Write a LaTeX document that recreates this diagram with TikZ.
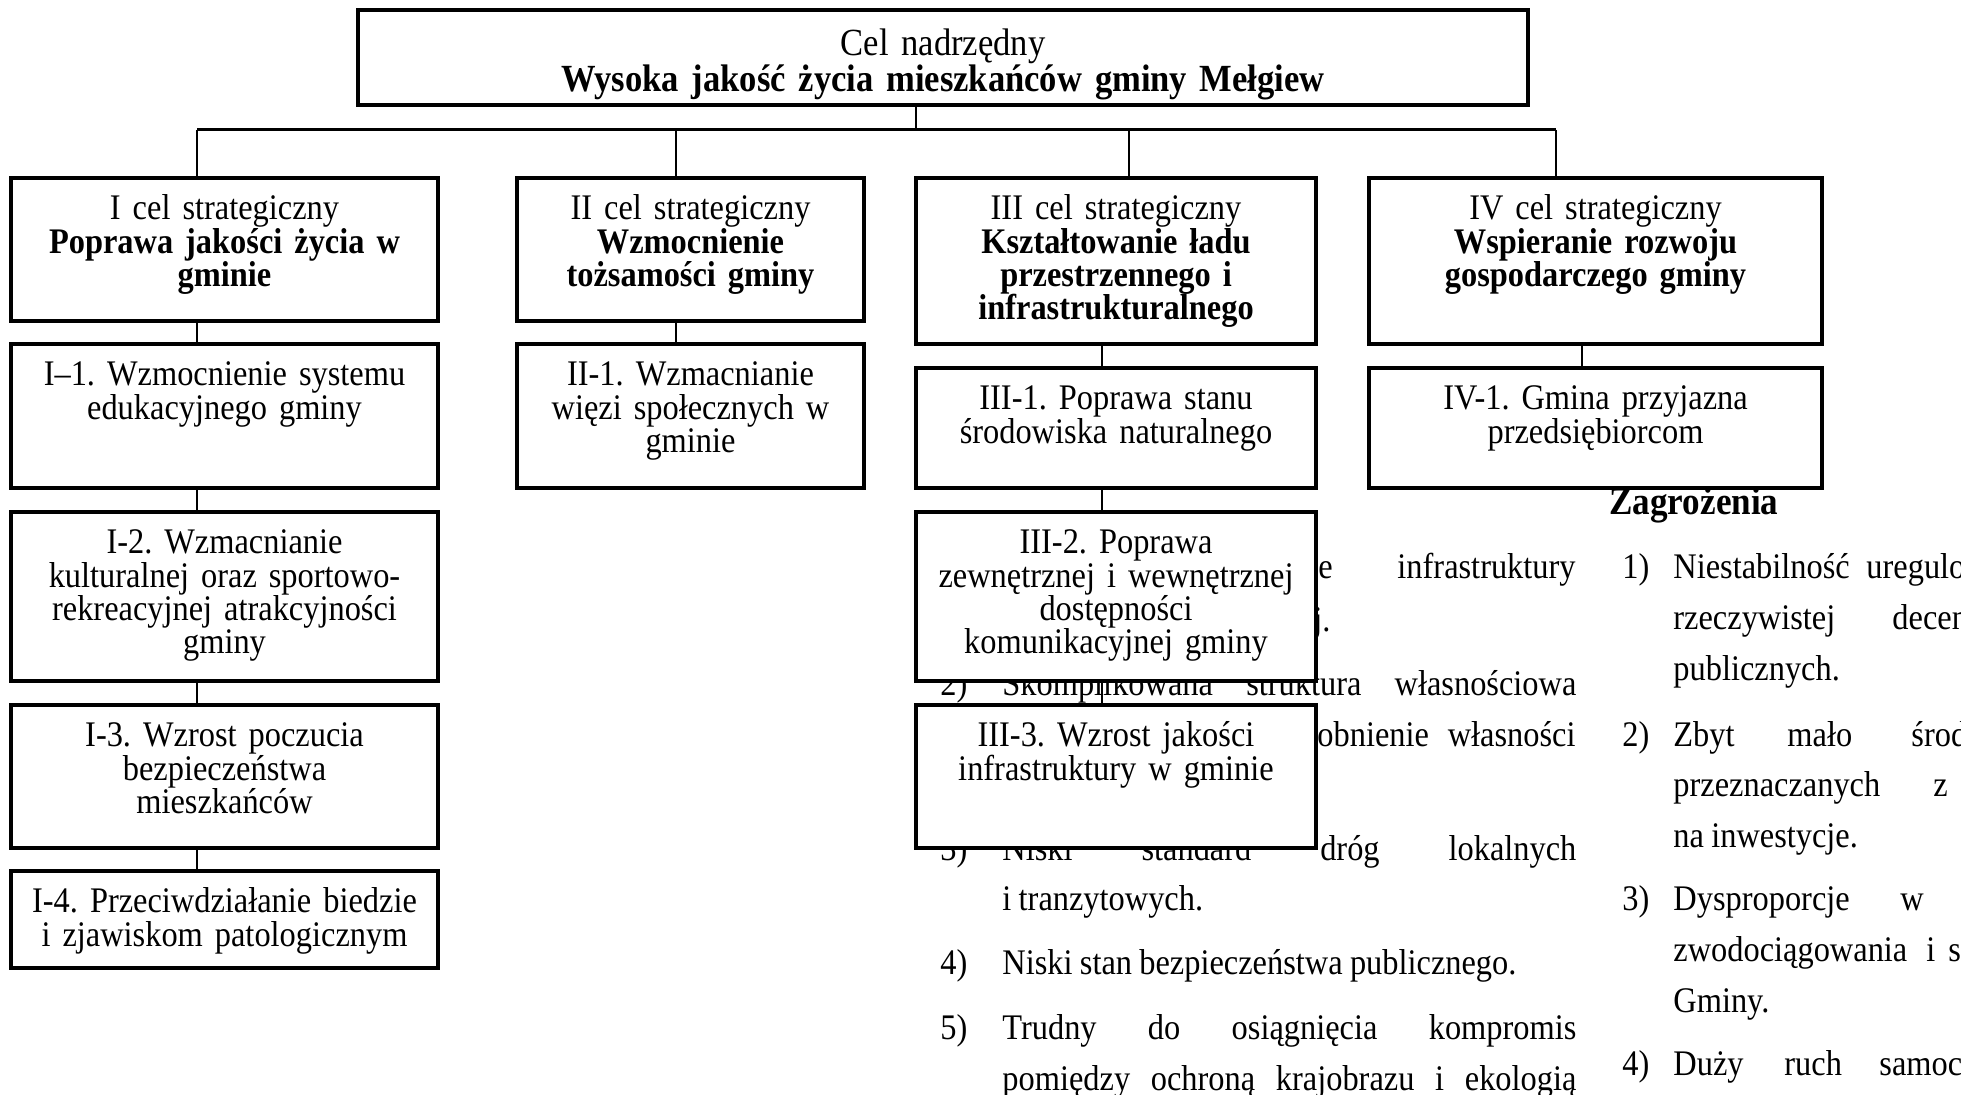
\documentclass[tikz,border=0pt]{standalone}
\usepackage{fontspec}
\setmainfont{Liberation Serif}[FakeStretch=0.9, WordSpace=0.9]
\newcommand\bxfont{\fontsize{18pt}{16.7pt}\selectfont\lineskiplimit=-100pt\lineskip=0pt}
\newcommand\topfont{\fontsize{19.2pt}{17.7pt}\selectfont\lineskiplimit=-100pt\lineskip=0pt}
\newcommand\bgfont{\fontsize{18pt}{25pt}\selectfont}
\newcommand\fstrut{\rule{0pt}{21.5pt}}
\newcommand\tstrut{\rule{0pt}{23.5pt}}
\tikzset{
  bx/.style={draw, line width=1.75pt, fill=white, inner sep=0pt},
  bt/.style={anchor=north, inner sep=0pt, align=center, font=\bxfont},
  bg/.style={anchor=base west, inner sep=0pt, font=\bgfont},
  bge/.style={anchor=base east, inner sep=0pt, font=\bgfont},
  conn/.style={line width=1.25pt},
  busline/.style={line width=1.5pt},
}
\begin{document}
\frenchspacing
\begin{tikzpicture}[x=0.5pt, y=-0.5pt]
\useasboundingbox (0,0) rectangle (1984,1095);
% ---- background text, middle column ----
\node[bg] (m1e) at (1318,579) {e};
\node[bge] (m1i) at (1576,579) {infrastruktury};
\node[bg] (m2j) at (1313,632) {j.};
\node[bg] (m3n) at (940,695) {2)};
\node[bg] (m3t) at (1002,695) {\makebox[287pt][s]{Skomplikowana struktura własnościowa}};
\node[bg] (m4a) at (1317,746) {obnienie};
\node[bge] (m4b) at (1576,746) {własności};
\node[bg] (m5n) at (940,860) {3)};
\node[bg] (m5t) at (1002,860) {\makebox[287pt][s]{Niski standard dróg lokalnych}};
\node[bg] (m6t) at (1002,910) {i tranzytowych.};
\node[bg] (m7n) at (940,974) {4)};
\node[bg] (m7t) at (1002,974) {Niski stan bezpieczeństwa publicznego.};
\node[bg] (m8n) at (940,1039) {5)};
\node[bg] (m8t) at (1002,1039) {\makebox[287pt][s]{Trudny do osiągnięcia kompromis}};
\node[bg] (m9t) at (1002,1090) {\makebox[287pt][s]{pomiędzy ochroną krajobrazu i ekologią}};
% ---- background text, right column ----
\begin{scope}
\clip (0,0) rectangle (1960,1095);
\node[bg, font=\fontsize{19.5pt}{25pt}\selectfont\bfseries] (zag) at (1609,515) {Zagrożenia};
\node[bg] (r1n) at (1622,579) {1)};
\node[bg] (r1a) at (1673,579) {Niestabilność};
\node[bg] (r1b) at (1866,579) {uregulo};
\node[bg] (r2a) at (1673,629) {rzeczywistej};
\node[bg] (r2b) at (1892,629) {decen};
\node[bg] (r3a) at (1673,680) {publicznych.};
\node[bg] (r4n) at (1622,746) {2)};
\node[bg] (r4a) at (1673,746) {Zbyt};
\node[bg] (r4b) at (1787,746) {mało};
\node[bg] (r4c) at (1911,746) {środ};
\node[bg] (r5a) at (1673,796) {przeznaczanych};
\node[bg] (r5b) at (1933,796) {z};
\node[bg] (r6a) at (1673,847) {na inwestycje.};
\node[bg] (r7n) at (1622,910) {3)};
\node[bg] (r7a) at (1673,910) {Dysproporcje};
\node[bg] (r7b) at (1900,910) {w};
\node[bg] (r8a) at (1673,961) {zwodociągowania};
\node[bg] (r8b) at (1926,961) {i};
\node[bg] (r8c) at (1948,961) {s};
\node[bg] (r9a) at (1673,1012) {Gminy.};
\node[bg] (r10n) at (1622,1075) {4)};
\node[bg] (r10a) at (1673,1075) {Duży};
\node[bg] (r10b) at (1784,1075) {ruch};
\node[bg] (r10c) at (1879,1075) {samoc};
\end{scope}
% ---- boxes ----
\node[bx, minimum width=585pt, minimum height=47.5pt] (top) at (943,57.5) {};
\node[bx, minimum width=213.5pt, minimum height=71.5pt] (I) at (224.5,249.5) {};
\node[bx, minimum width=173.5pt, minimum height=71.5pt] (II) at (690.5,249.5) {};
\node[bx, minimum width=200pt, minimum height=83pt] (III) at (1116,261) {};
\node[bx, minimum width=226.5pt, minimum height=83pt] (IV) at (1595.5,261) {};
\node[bx, minimum width=213.5pt, minimum height=72pt] (I1) at (224.5,416) {};
\node[bx, minimum width=173.5pt, minimum height=72pt] (II1) at (690.5,416) {};
\node[bx, minimum width=200pt, minimum height=60pt] (III1) at (1116,428) {};
\node[bx, minimum width=226.5pt, minimum height=60pt] (IV1) at (1595.5,428) {};
\node[bx, minimum width=213.5pt, minimum height=84.5pt] (I2) at (224.5,596.5) {};
\node[bx, minimum width=200pt, minimum height=84.5pt] (III2) at (1116,596.5) {};
\node[bx, minimum width=213.5pt, minimum height=71.5pt] (I3) at (224.5,776.5) {};
\node[bx, minimum width=200pt, minimum height=71.5pt] (III3) at (1116,776.5) {};
\node[bx, minimum width=213.5pt, minimum height=48.5pt] (I4) at (224.5,919.5) {};
% ---- box texts ----
\node[bt, font=\topfont, text width=570pt] (topt) at (top.north) {\tstrut Cel nadrzędny\\\textbf{Wysoka jakość życia mieszkańców gminy Mełgiew}};
\node[bt, text width=205pt] (It) at (I.north) {\fstrut I cel strategiczny\\\textbf{Poprawa jakości życia w}\\\textbf{gminie}};
\node[bt, text width=165pt] (IIt) at (II.north) {\fstrut II cel strategiczny\\\textbf{Wzmocnienie}\\\textbf{tożsamości gminy}};
\node[bt, text width=192pt] (IIIt) at (III.north) {\fstrut III cel strategiczny\\\textbf{Kształtowanie ładu}\\\textbf{przestrzennego i}\\\textbf{infrastrukturalnego}};
\node[bt, text width=218pt] (IVt) at (IV.north) {\fstrut IV cel strategiczny\\\textbf{Wspieranie rozwoju}\\\textbf{gospodarczego gminy}};
\node[bt, text width=205pt] (I1t) at (I1.north) {\fstrut I–1. Wzmocnienie systemu\\edukacyjnego gminy};
\node[bt, text width=165pt] (II1t) at (II1.north) {\fstrut II-1. Wzmacnianie\\więzi społecznych w\\gminie};
\node[bt, text width=192pt] (III1t) at (III1.north) {\fstrut III-1. Poprawa stanu\\środowiska naturalnego};
\node[bt, text width=218pt] (IV1t) at (IV1.north) {\fstrut IV-1. Gmina przyjazna\\przedsiębiorcom};
\node[bt, text width=205pt] (I2t) at (I2.north) {\fstrut I-2. Wzmacnianie\\kulturalnej oraz sportowo-\\rekreacyjnej atrakcyjności\\gminy};
\node[bt, text width=192pt] (III2t) at (III2.north) {\fstrut III-2. Poprawa\\zewnętrznej i wewnętrznej\\dostępności\\komunikacyjnej gminy};
\node[bt, text width=205pt] (I3t) at (I3.north) {\fstrut I-3. Wzrost poczucia\\bezpieczeństwa\\mieszkańców};
\node[bt, text width=192pt] (III3t) at (III3.north) {\fstrut III-3. Wzrost jakości\\infrastruktury w gminie};
\node[bt, text width=205pt] (I4t) at (I4.north) {\fstrut I-4. Przeciwdziałanie biedzie\\i zjawiskom patologicznym};
% ---- connector columns ----
\coordinate (stem) at (916,0);
\coordinate (cI) at (197,0);
\coordinate (cII) at (676,0);
\coordinate (cIIIa) at (1129,0);
\coordinate (cIIIb) at (1102,0);
\coordinate (cIVa) at (1556,0);
\coordinate (cIVb) at (1582,0);
\coordinate (busL) at (197,130);
\coordinate (busR) at (1556,130);
% ---- connectors ----
\draw[conn] (top.south -| stem) -- (stem |- busL);
\draw[busline] (busL) -- (busR);
\draw[conn] (busL) -- (I.north -| cI);
\draw[conn] (cII |- busL) -- (II.north -| cII);
\draw[conn] (cIIIa |- busL) -- (III.north -| cIIIa);
\draw[conn] (busR) -- (IV.north -| cIVa);
\draw[conn] (I.south -| cI) -- (I1.north -| cI);
\draw[conn] (I1.south -| cI) -- (I2.north -| cI);
\draw[conn] (I2.south -| cI) -- (I3.north -| cI);
\draw[conn] (I3.south -| cI) -- (I4.north -| cI);
\draw[conn] (II.south -| cII) -- (II1.north -| cII);
\draw[conn] (III.south -| cIIIb) -- (III1.north -| cIIIb);
\draw[conn] (III1.south -| cIIIb) -- (III2.north -| cIIIb);
\draw[conn] (III2.south -| cIIIb) -- (III3.north -| cIIIb);
\draw[conn] (IV.south -| cIVb) -- (IV1.north -| cIVb);
\end{tikzpicture}
\end{document}
